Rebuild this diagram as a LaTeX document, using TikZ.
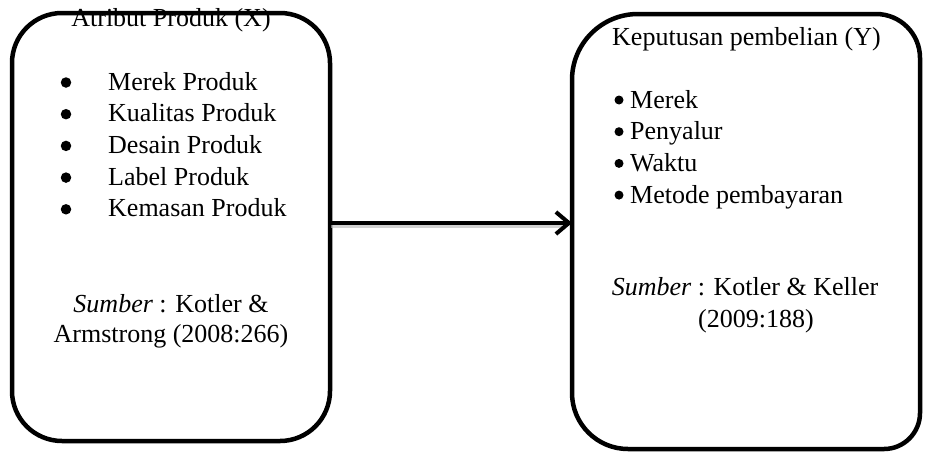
\documentclass[tikz,border=0pt]{standalone}
\usepackage{fontspec}
\setmainfont{Liberation Serif}
\usetikzlibrary{arrows.meta}
\tikzset{
  boxframe/.style={draw=black, line width=4.5pt, line join=round},
  txt/.style={inner sep=0pt, anchor=base west, font=\fontsize{26}{30}\selectfont},
  ctxt/.style={inner sep=0pt, anchor=base, font=\fontsize{26}{30}\selectfont},
  bigdot/.style={circle, fill=black, inner sep=0pt, minimum size=10.5pt},
  smalldot/.style={circle, fill=black, inner sep=0pt, minimum size=9pt},
  conn/.style={line width=4pt, -{Straight Barb[length=13pt,width=22pt,line width=4pt]}},
  shadowline/.style={line width=4pt, draw=black!30, opacity=0.6}
}
\begin{document}
\begin{tikzpicture}[x=1pt,y=-1pt]
\useasboundingbox (0,0) rectangle (925,453);
% boxes
\draw[boxframe, rounded corners=50pt] (12,13) rectangle (330,441);
\draw[boxframe] (572,230) [rounded corners=66pt] -- (572,14) [rounded corners=44pt] -- (920,14)
  [rounded corners=36pt] -- (920,449) [rounded corners=56pt] -- (572,449) [sharp corners] -- cycle;
\coordinate (lbE) at (330,223);
\coordinate (rbW) at (572,223);
\coordinate (lbEs) at (331,226);
\coordinate (rbWs) at (566,226);
% arrow
\draw[shadowline] (lbEs) -- (rbWs);
\draw[conn] (lbE) -- (rbW);
% left texts
\node[ctxt] (lt) at (171,26) {Atribut Produk (X)};
\foreach \t [count=\i] in {Merek Produk, Kualitas Produk, Desain Produk, Label Produk, Kemasan Produk}{
  \node[txt] (lb\i) at (108,{90+31.7*(\i-1)}) {\t};
  \node[bigdot] (lbl\i) at (66,{82.5+31.7*(\i-1)}) {};
}
\node[ctxt] (ls1) at (171,312) {\textit{Sumber} : Kotler \&};
\node[ctxt] (ls2) at (171,342) {Armstrong (2008:266)};
% right texts
\node[txt] (rt) at (612,45) {Keputusan pembelian (Y)};
\foreach \t [count=\i] in {Merek, Penyalur, Waktu, Metode pembayaran}{
  \node[txt] (rb\i) at (630,{108+31.7*(\i-1)}) {\t};
  \node[smalldot] (rbl\i) at (619,{100+31.7*(\i-1)}) {};
}
\node[ctxt] (rs1) at (745,295) {\textit{Sumber} : Kotler \& Keller};
\node[ctxt] (rs2) at (756,327) {(2009:188)};
\end{tikzpicture}
\end{document}
